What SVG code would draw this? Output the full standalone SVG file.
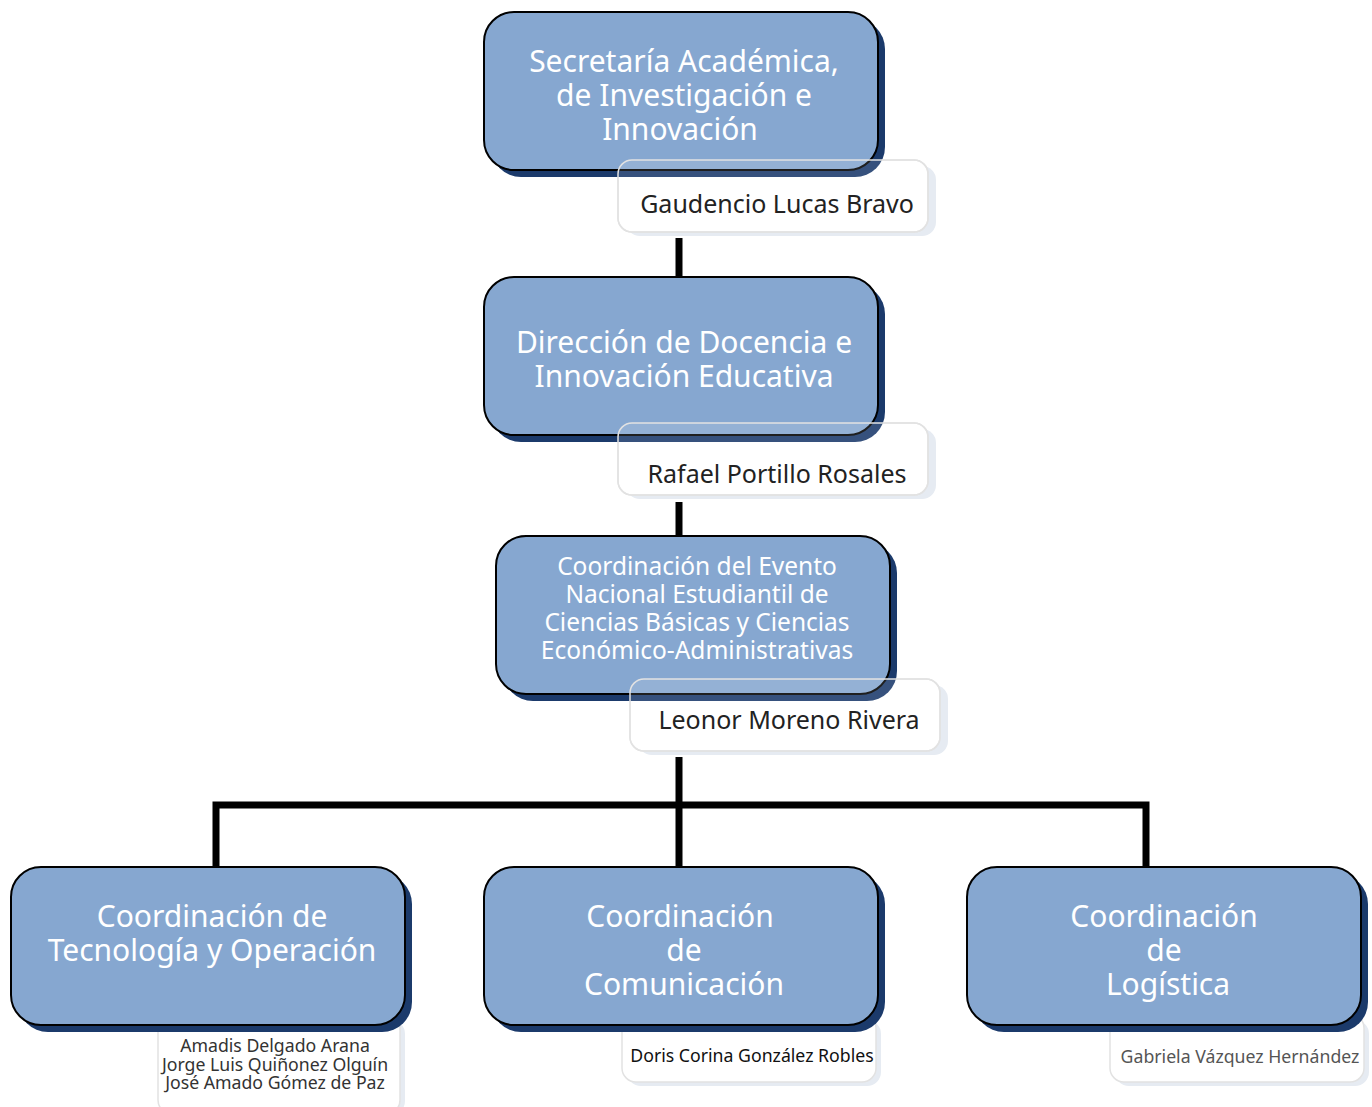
<svg xmlns="http://www.w3.org/2000/svg" width="1372" height="1107" viewBox="0 0 1372 1107">
<style>
.sh{fill:#1B3A6B}
.box{fill:#86A7D0;stroke:#000;stroke-width:2}
.t{font-family:"Noto Sans","Open Sans",sans-serif;fill:#fff;text-anchor:middle}
.lsh{fill:#E6EBF2}
.lb{fill:#fff;stroke:#E2E2E2;stroke-width:1.5}
.lo{fill:#fff;fill-opacity:0.12;stroke:#E2E2E2;stroke-width:1.5}
.lt{font-family:"Noto Sans","Open Sans",sans-serif;fill:#222;text-anchor:middle}
.c{stroke:#000;stroke-width:7;fill:none}
</style>
<rect width="1372" height="1107" fill="#fff"/>
<g id="connectors">
<line class="c" x1="679" y1="238" x2="679" y2="278"/>
<line class="c" x1="679" y1="502" x2="679" y2="538"/>
<path class="c" d="M679 757V868M216 868V805H1146V868"/>
</g>
<g id="l1">
<rect class="lsh" x="626" y="166" width="310" height="70" rx="14"/>
<rect class="lb" x="618" y="160" width="310" height="72" rx="14"/>
</g>
<g id="n1">
<rect class="sh" x="491" y="19" width="394" height="158" rx="30"/>
<rect class="box" x="484" y="12" width="394" height="158" rx="30"/>
<text class="t" font-size="30"><tspan x="684" y="72">Secretaría Académica,</tspan><tspan x="684" y="106">de Investigación e</tspan><tspan x="680" y="140">Innovación</tspan></text>
</g>
<g id="l1t">
<rect class="lo" x="618" y="160" width="310" height="72" rx="14"/>
<text class="lt" font-size="25" x="777" y="213">Gaudencio Lucas Bravo</text>
</g>
<g id="l2">
<rect class="lsh" x="626" y="429" width="310" height="70" rx="14"/>
<rect class="lb" x="618" y="423" width="310" height="72" rx="14"/>
</g>
<g id="n2">
<rect class="sh" x="491" y="284" width="394" height="158" rx="30"/>
<rect class="box" x="484" y="277" width="394" height="158" rx="30"/>
<text class="t" font-size="30"><tspan x="684" y="353">Dirección de Docencia e</tspan><tspan x="684" y="387">Innovación Educativa</tspan></text>
</g>
<g id="l2t">
<rect class="lo" x="618" y="423" width="310" height="72" rx="14"/>
<text class="lt" font-size="25" x="777" y="483">Rafael Portillo Rosales</text>
</g>
<g id="l3">
<rect class="lsh" x="638" y="685" width="310" height="70" rx="14"/>
<rect class="lb" x="630" y="679" width="310" height="72" rx="14"/>
</g>
<g id="n3">
<rect class="sh" x="503" y="543" width="394" height="158" rx="30"/>
<rect class="box" x="496" y="536" width="394" height="158" rx="30"/>
<text class="t" font-size="24.5"><tspan x="697" y="575">Coordinación del Evento</tspan><tspan x="697" y="603">Nacional Estudiantil de</tspan><tspan x="697" y="631">Ciencias Básicas y Ciencias</tspan><tspan x="697" y="659">Económico-Administrativas</tspan></text>
</g>
<g id="l3t">
<rect class="lo" x="630" y="679" width="310" height="72" rx="14"/>
<text class="lt" font-size="25" x="789" y="729">Leonor Moreno Rivera</text>
</g>
<g id="l4">
<rect class="lsh" x="163" y="1020" width="242" height="95" rx="14"/>
<rect class="lb" x="158" y="1014" width="242" height="100" rx="14"/>
<text class="lt" font-size="17.7" style="fill:#333"><tspan x="275" y="1052">Amadis Delgado Arana</tspan><tspan x="275" y="1071">Jorge Luis Quiñonez Olguín</tspan><tspan x="275" y="1089">José Amado Gómez de Paz</tspan></text>
</g>
<g id="n4">
<rect class="sh" x="18" y="874" width="394" height="158" rx="30"/>
<rect class="box" x="11" y="867" width="394" height="158" rx="30"/>
<text class="t" font-size="30"><tspan x="212" y="927">Coordinación de</tspan><tspan x="212" y="961">Tecnología y Operación</tspan></text>
</g>
<g id="l5">
<rect class="lsh" x="627" y="1020" width="254" height="66" rx="14"/>
<rect class="lb" x="622" y="1014" width="254" height="68" rx="14"/>
<text class="lt" font-size="17.7" style="fill:#111" x="752" y="1062">Doris Corina González Robles</text>
</g>
<g id="n5">
<rect class="sh" x="491" y="874" width="394" height="158" rx="30"/>
<rect class="box" x="484" y="867" width="394" height="158" rx="30"/>
<text class="t" font-size="30"><tspan x="680" y="927">Coordinación</tspan><tspan x="684" y="961">de</tspan><tspan x="684" y="995">Comunicación</tspan></text>
</g>
<g id="l6">
<rect class="lsh" x="1115" y="1020" width="254" height="66" rx="14"/>
<rect class="lb" x="1110" y="1014" width="254" height="68" rx="14"/>
<text class="lt" font-size="17.7" style="fill:#555" x="1240" y="1063">Gabriela Vázquez Hernández</text>
</g>
<g id="n6">
<rect class="sh" x="974" y="874" width="394" height="158" rx="30"/>
<rect class="box" x="967" y="867" width="394" height="158" rx="30"/>
<text class="t" font-size="30"><tspan x="1164" y="927">Coordinación</tspan><tspan x="1164" y="961">de</tspan><tspan x="1168" y="995">Logística</tspan></text>
</g>
</svg>
